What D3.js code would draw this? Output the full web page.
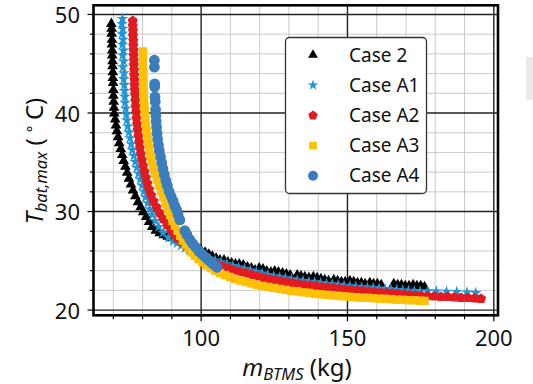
<!DOCTYPE html>
<html><head><meta charset="utf-8">
<script src="https://cdn.jsdelivr.net/npm/d3@7"></script>
<style>body{margin:0;background:#fff;}svg{display:block;font-family:"Noto Sans",sans-serif;}</style>
</head><body>
<svg id="chart" width="533" height="384"></svg>
<script>
// ---- data ----
const xMajorTicks=[100,150,200];
const yMajorTicks=[20,30,40,50];
const xMinorTicks=[70,80,90,110,120,130,140,160,170,180,190];
const yMinorTicks=[22,24,26,28,32,34,36,38,42,44,46,48];
const seriesNames=["Case 2","Case A1","Case A2","Case A3","Case A4"];

const case2X=[69.5,69.6,69.6,69.7,69.7,69.8,69.8,69.9,69.9,70.0,70.0,70.1,70.2,70.2,70.3,70.4,
70.5,70.8,71.1,71.4,71.8,72.2,72.7,73.2,73.7,74.3,74.9,75.5,76.2,76.9,77.7,78.6,79.5,80.4,81.4,82.4,83.5,84.7,
86.0,87.4,88.8,90.2,91.6,93.0,94.4,95.8,97.2,98.6,100.0,
101.5,102.8,104.0,105.3,106.6,108.0,109.3,110.6,111.9,113.2,114.6,116.0,117.3,118.6,120.0,121.3,122.6,124.0,
125.3,126.6,128.0,129.3,130.6,133.0,134.3,135.6,137.0,138.5,139.8,141.1,142.4,143.7,145.5,146.8,148.1,149.4,
151.0,152.3,153.6,154.9,156.2,157.8,159.1,160.4,161.7,166.0,167.3,168.6,169.9,171.2,172.6,173.9,175.2,176.5];
const case2Y=[49.0,48.5,48.0,47.4,46.9,46.3,45.8,45.2,44.7,44.1,43.5,43.0,42.3,41.7,41.1,40.5,
39.9,39.3,38.7,38.1,37.5,36.9,36.3,35.7,35.1,34.5,33.9,33.3,32.7,32.1,31.5,30.9,30.4,29.9,29.4,28.9,28.4,28.0,
27.75,27.55,27.4,27.25,27.15,27.0,26.8,26.55,26.35,26.2,26.05,
25.8,25.6,25.4,25.2,25.0,25.0,24.8,24.7,24.6,24.6,24.5,24.3,24.2,24.0,24.2,24.1,23.9,23.8,
23.9,23.8,23.7,23.6,23.5,23.5,23.4,23.3,23.2,23.3,23.2,23.1,23.0,22.9,23.0,22.9,22.8,22.8,
22.9,22.8,22.7,22.7,22.6,22.7,22.6,22.6,22.5,22.6,22.5,22.5,22.4,22.4,22.5,22.4,22.4,22.3];

const caseA1X=[73.3,73.1,73.4,73.2,73.5,73.3,73.6,73.4,73.7,73.5,73.8,73.7,73.9,74.0,74.1,74.2,74.4,74.6,
74.8,75.1,75.5,75.9,76.3,76.7,77.2,77.7,78.2,78.8,79.4,80.0,80.6,81.2,81.9,82.6,83.5,84.5,85.7,87.2,
89.0,90.6,92.0,93.4,94.8,96.2,97.6,99.0,100.4,101.8,103.2,
105,107,109,111,113,115,117,119,121,123,125,127,129,131,133,135,137,139,141,143,145,147,149,151,153,155,157,159,161,163,165,167,169,171,173,175,177.5,180.5,184,187.5,191,194];
const caseA1Y=[49.5,49.0,48.5,48.0,47.4,46.9,46.3,45.8,45.2,44.6,44.0,43.4,42.8,42.2,41.6,41.0,40.4,39.8,
39.2,38.6,38.0,37.4,36.8,36.2,35.6,35.0,34.4,33.8,33.2,32.6,32.0,31.4,30.8,30.2,29.6,29.0,28.4,27.8,
27.3,26.95,26.75,26.5,26.25,26.0,25.75,25.55,25.4,25.25,25.15,
25.0,24.82,24.62,24.44,24.27,24.12,23.97,23.82,23.67,23.52,23.4,23.3,23.2,23.1,23.0,22.91,22.84,22.78,22.7,22.63,22.57,22.5,22.44,22.39,22.34,22.29,22.24,22.19,22.14,22.09,22.05,22.0,21.96,21.92,21.88,21.85,21.87,21.85,21.82,21.8,21.75,21.7];

const caseA2X=[76.8,76.8,76.9,76.9,77.0,77.0,77.1,77.1,77.2,77.2,77.3,77.3,77.4,77.4,77.5,77.6,77.7,77.8,78.0,
78.1,78.3,78.5,78.8,79.0,79.3,79.6,80.0,80.4,80.8,81.3,81.8,82.4,83.1,83.9,84.9,86.0,87.2,88.6,
89.8,90.9,92.1,93.4,94.7,96.0,97.3,98.6,99.9,101.2,102.5,103.8,
105.5,107.5,109.5,111.5,113.5,115.5,117.5,119.5,121.5,123.5,125.5,127.5,129.5,131.5,133.5,135.5,137.5,139.5,141.5,143.5,
145.5,147.5,149.5,151.5,153.5,155.5,157.5,159.5,161.5,163.5,165.5,167.5,169.5,171.5,173.5,175.5,177.5,
179.8,182.1,184.4,186.7,189.0,191.3,193.6,195.8];
const caseA2Y=[49.3,48.8,48.3,47.8,47.3,46.8,46.3,45.8,45.3,44.8,44.3,43.8,43.3,42.8,42.3,41.8,41.2,40.6,40.0,
39.4,38.8,38.2,37.6,37.0,36.4,35.8,35.2,34.6,34.0,33.4,32.8,32.2,31.6,31.0,30.4,29.8,29.2,28.6,
28.1,27.65,27.25,26.9,26.55,26.2,25.9,25.6,25.35,25.1,24.9,24.75,
24.6,24.4,24.2,24.0,23.85,23.7,23.55,23.4,23.25,23.1,23.0,22.9,22.8,22.7,22.6,22.5,22.45,22.4,22.3,22.25,
22.2,22.1,22.05,22.0,21.95,21.9,21.85,21.8,21.75,21.7,21.65,21.6,21.55,21.5,21.45,21.4,21.4,
21.35,21.3,21.3,21.25,21.2,21.2,21.15,21.1];

const caseA3X=[80.3,80.3,80.3,80.3,80.4,80.4,80.4,80.5,80.5,80.6,80.7,80.8,80.9,
81.0,81.2,81.4,81.6,81.9,82.2,82.5,82.9,83.3,83.8,84.4,85.0,85.7,86.5,87.2,88.0,88.8,89.6,90.4,91.2,
92.1,93.0,93.9,94.9,95.9,97.0,98.1,99.3,100.6,102.0,103.5,105.0,106.6,108.3,110.0,111.8,113.6,115.4,117.3,119.2,
121.1,123.0,125.0,127.0,129,131,133,135,137,139,141,143,145,147,149,151,153,155,157,159,161,163,165,167,169,171,173,175,176.5];
const caseA3Y=[46.2,45.7,45.2,44.7,44.2,43.7,43.2,42.7,42.2,41.7,41.2,40.7,40.2,
39.7,39.2,38.6,38.0,37.4,36.8,36.2,35.6,35.0,34.4,33.8,33.2,32.6,32.0,31.4,30.8,30.2,29.6,29.0,28.5,
28.0,27.5,27.0,26.6,26.2,25.8,25.45,25.1,24.8,24.5,24.2,23.95,23.7,23.5,23.3,23.1,22.95,22.8,22.65,22.5,
22.4,22.3,22.2,22.1,22.0,21.9,21.85,21.75,21.7,21.6,21.55,21.5,21.45,21.4,21.35,21.3,21.25,21.2,21.2,21.15,21.1,21.1,21.05,21.0,21.0,20.95,20.95,20.9,20.88];

const caseA4X=[84.2,84.2,84.3,84.3,84.4,84.5,84.6,84.7,84.8,84.95,85.1,85.3,85.6,85.9,86.3,86.7,87.1,87.6,88.1,88.6,
89.2,89.9,90.6,91.2,91.8,92.3,92.9,94.6,95.3,96.3,97.3,98.4,99.5,100.6,101.7,102.8,103.9,105.0,105.6];
const caseA4Y=[45.3,44.6,42.9,42.6,41.6,41.1,40.3,39.7,39.1,38.5,37.9,37.3,36.7,36.1,35.5,34.9,34.3,33.7,33.1,32.6,
32.0,31.5,31.0,30.5,30.1,29.6,29.1,28.0,27.6,27.1,26.7,26.3,25.9,25.6,25.3,25.0,24.7,24.45,24.3];

// ---- chart ----
const svg=d3.select("#chart");
const L=93.5,R=498,T=5.3,B=315.3;
const x=d3.scaleLinear().domain([63.4,201.6]).range([L,R]);
const y=d3.scaleLinear().domain([19.42,50.88]).range([B,T]);

// stray panel edge on the right of the original image
svg.append("rect").attr("x",526).attr("y",57).attr("width",7).attr("height",43).attr("fill","#e9eaea");

// grids
function grid(axis, tr){ const g=svg.append("g").attr("transform",tr).call(axis); g.select(".domain").remove(); return g; }
grid(d3.axisBottom(x).tickValues(xMinorTicks).tickSize(-(B-T)).tickFormat(""),`translate(0,${B})`)
  .selectAll("line").attr("stroke","#c4c4c4").attr("stroke-width",0.9);
grid(d3.axisLeft(y).tickValues(yMinorTicks).tickSize(-(R-L)).tickFormat(""),`translate(${L},0)`)
  .selectAll("line").attr("stroke","#c4c4c4").attr("stroke-width",0.9);
grid(d3.axisBottom(x).tickValues(xMajorTicks).tickSize(-(B-T)).tickFormat(""),`translate(0,${B})`)
  .selectAll("line").attr("stroke","#222").attr("stroke-width",1.4);
grid(d3.axisLeft(y).tickValues(yMajorTicks).tickSize(-(R-L)).tickFormat(""),`translate(${L},0)`)
  .selectAll("line").attr("stroke","#222").attr("stroke-width",1.4);

// pentagon symbol
const symbolPentagon={draw(ctx,size){const r=Math.sqrt(size/(2.5*Math.sin(72*Math.PI/180)));
  for(let i=0;i<5;i++){const a=(-90+i*72)*Math.PI/180;const px=r*Math.cos(a),py=r*Math.sin(a);
    if(i===0)ctx.moveTo(px,py);else ctx.lineTo(px,py);} ctx.closePath();}};

const series=[
 {name:seriesNames[0],xs:case2X,ys:case2Y,color:"#000000",type:d3.symbolTriangle,size:50},
 {name:seriesNames[1],xs:caseA1X,ys:caseA1Y,color:"#1e96d8",type:d3.symbolStar,size:42},
 {name:seriesNames[2],xs:caseA2X,ys:caseA2Y,color:"#e01b22",type:symbolPentagon,size:68},
 {name:seriesNames[3],xs:caseA3X,ys:caseA3Y,color:"#ffc107",type:d3.symbolSquare,size:70},
 {name:seriesNames[4],xs:caseA4X,ys:caseA4Y,color:"#3a7ebf",type:d3.symbolCircle,size:92}
];

const plot=svg.append("g");
series.forEach(s=>{
  const pts=s.xs.map((v,i)=>[v,s.ys[i]]);
  plot.append("g").selectAll("path").data(pts).join("path")
    .attr("transform",d=>`translate(${x(d[0])},${y(d[1])})`)
    .attr("d",d3.symbol().type(s.type).size(s.size))
    .attr("fill",s.color);
});

// frame
svg.append("rect").attr("x",L).attr("y",T).attr("width",R-L).attr("height",B-T)
  .attr("fill","none").attr("stroke","#000").attr("stroke-width",2.6);

// axes ticks
function styleAxis(g){g.select(".domain").remove();g.selectAll("line").attr("stroke","#000").attr("stroke-width",1.2);
  g.selectAll("text").attr("font-family","'Noto Sans',sans-serif").attr("font-size",22).attr("fill","#111");}
svg.append("g").attr("transform",`translate(0,${B})`)
  .call(d3.axisBottom(x).tickValues(xMinorTicks).tickSize(4).tickFormat("")).call(styleAxis);
svg.append("g").attr("transform",`translate(${L},0)`)
  .call(d3.axisLeft(y).tickValues(yMinorTicks).tickSize(3.5).tickFormat("")).call(styleAxis);
svg.append("g").attr("transform",`translate(0,${B})`)
  .call(d3.axisBottom(x).tickValues(xMajorTicks).tickSize(6).tickPadding(9.5)).call(styleAxis);
const ya=svg.append("g").attr("transform",`translate(${L},0)`)
  .call(d3.axisLeft(y).tickValues(yMajorTicks).tickSize(6).tickPadding(7.5)).call(styleAxis);
ya.selectAll("text").attr("dy","0.4em");

// axis labels
const xl=svg.append("text").attr("x",297).attr("y",376).attr("text-anchor","middle")
  .attr("font-size",24).attr("fill","#111");
xl.append("tspan").attr("font-style","italic").text("m");
xl.append("tspan").attr("font-style","italic").attr("font-size",16.5).attr("dy",4).text("BTMS");
xl.append("tspan").attr("dy",-4).text(" (kg)");

const yl=svg.append("text").attr("transform","translate(42.5,161) rotate(-90)").attr("text-anchor","middle")
  .attr("font-size",24).attr("fill","#111");
yl.append("tspan").attr("font-style","italic").text("T");
yl.append("tspan").attr("font-style","italic").attr("font-size",16.5).attr("dy",4).text("bat,max");
yl.append("tspan").attr("dy",-4).text(" (");
yl.append("tspan").attr("font-size",16).attr("dy",-8).text(" ∘ ");
yl.append("tspan").attr("dy",8).text("C)");

// legend
const lg=svg.append("g");
lg.append("rect").attr("x",285.5).attr("y",37.5).attr("width",141).attr("height",156).attr("rx",4)
  .attr("fill","#fff").attr("stroke","#333").attr("stroke-width",1.3);
series.forEach((s,i)=>{
  const cy=55+i*30.2;
  lg.append("path").attr("transform",`translate(313,${cy})`).attr("d",d3.symbol().type(s.type).size(s.size*0.85)).attr("fill",s.color);
  lg.append("text").attr("x",349).attr("y",cy+6.6).attr("font-size",19).attr("fill","#111").text(s.name);
});
</script>
</body></html>
